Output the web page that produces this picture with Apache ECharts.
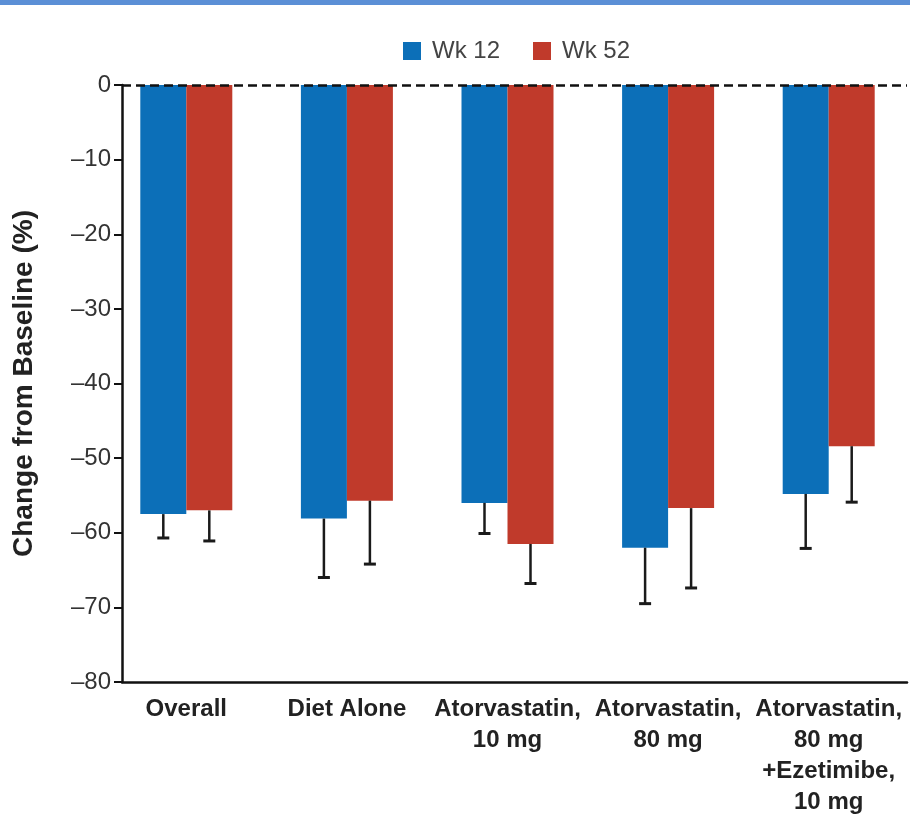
<!DOCTYPE html>
<html>
<head>
<meta charset="utf-8">
<script src="https://cdn.jsdelivr.net/npm/echarts@6/dist/echarts.min.js"></script>
<style>
  html, body { margin: 0; padding: 0; background: #fff; }
  #chart { width: 910px; height: 833px; }
</style>
</head>
<body>
<div id="chart"></div>
<script>
var categories = ['Overall', 'Diet Alone', 'Atorvastatin,\n10 mg', 'Atorvastatin,\n80 mg', 'Atorvastatin,\n80 mg\n+Ezetimibe,\n10 mg'];
var wk12 = [-57.5, -58.1, -56.0, -62.0, -54.8];
var wk52 = [-57.0, -55.7, -61.5, -56.7, -48.4];
// lower end of each error bar
var wk12Low = [-60.7, -66.0, -60.1, -69.5, -62.1];
var wk52Low = [-61.1, -64.2, -66.8, -67.4, -55.9];
var yTicks = [0, -10, -20, -30, -40, -50, -60, -70, -80];

var FONT = '"Liberation Sans", Lato, sans-serif';
var BLUE = '#0c6fb8';
var RED = '#c03a2b';
var BAR_W = 46;

var chartDom = document.getElementById('chart');
var myChart = echarts.init(chartDom);

function errData(vals, lows) {
  var out = [];
  for (var i = 0; i < vals.length; i++) {
    out.push([i, vals[i], lows[i]]);
  }
  return out;
}

function errRender(shift) {
  return function (params, api) {
    var i = api.value(0);
    var p1 = api.coord([i, api.value(1)]);
    var p2 = api.coord([i, api.value(2)]);
    var x = p1[0] + shift;
    return {
      type: 'group',
      children: [
        { type: 'line', shape: { x1: x, y1: p1[1], x2: x, y2: p2[1] }, style: { stroke: '#1a1a1a', lineWidth: 2.5 } },
        { type: 'line', shape: { x1: x - 6, y1: p2[1], x2: x + 6, y2: p2[1] }, style: { stroke: '#1a1a1a', lineWidth: 3 } }
      ]
    };
  };
}

var option = {
  animation: false,
  backgroundColor: '#fff',
  textStyle: { fontFamily: FONT },
  graphic: [
    { type: 'rect', left: 0, top: 0, shape: { width: 910, height: 5 }, style: { fill: '#5b8fd6' } }
  ],
  legend: {
    data: ['Wk 12', 'Wk 52'],
    left: 398,
    top: 34,
    icon: 'rect',
    itemWidth: 18,
    itemHeight: 18,
    itemGap: 33,
    textStyle: { fontFamily: FONT, fontSize: 24, color: '#444', padding: [0, 0, 0, 6] }
  },
  grid: [
    { left: 122, right: 3, top: 85, bottom: 151 },
    { left: 106, right: 1, top: 85, bottom: 151 }
  ],
  xAxis: [
    {
      type: 'category', gridIndex: 0, data: categories,
      axisLine: { onZero: false, lineStyle: { color: '#111', width: 2.5 } },
      axisTick: { show: false },
      axisLabel: { show: false }
    },
    {
      type: 'category', gridIndex: 1, data: categories,
      axisLine: { show: false },
      axisTick: { show: false },
      axisLabel: {
        margin: 12,
        interval: 0,
        fontFamily: FONT,
        fontSize: 24,
        fontWeight: 'bold',
        color: '#222',
        lineHeight: 31,
        align: 'center'
      }
    }
  ],
  yAxis: [
    {
      type: 'value', gridIndex: 0, min: -80, max: 0, interval: 10,
      name: 'Change from Baseline (%)',
      nameLocation: 'middle',
      nameGap: 84,
      nameTextStyle: { fontFamily: FONT, fontSize: 28, fontWeight: 'bold', color: '#222' },
      axisLine: { show: true, lineStyle: { color: '#111', width: 2.5 } },
      axisTick: { show: true, length: 8, lineStyle: { color: '#111', width: 2 } },
      axisLabel: {
        margin: 11,
        fontFamily: FONT,
        fontSize: 24,
        color: '#333',
        formatter: function (v) { return v < 0 ? '\u2013' + Math.abs(v) : String(v); }
      },
      splitLine: { show: false }
    },
    {
      type: 'value', gridIndex: 1, min: -80, max: 0, interval: 10,
      show: false
    }
  ],
  series: [
    {
      name: 'Wk 12', type: 'bar', xAxisIndex: 1, yAxisIndex: 1,
      data: wk12, barWidth: BAR_W, barGap: '0%',
      itemStyle: { color: BLUE }, z: 2
    },
    {
      name: 'Wk 52', type: 'bar', xAxisIndex: 1, yAxisIndex: 1,
      data: wk52, barWidth: BAR_W, barGap: '0%',
      itemStyle: { color: RED }, z: 2
    },
    {
      type: 'custom', xAxisIndex: 1, yAxisIndex: 1,
      renderItem: errRender(-BAR_W / 2),
      data: errData(wk12, wk12Low), z: 3, silent: true
    },
    {
      type: 'custom', xAxisIndex: 1, yAxisIndex: 1,
      renderItem: errRender(BAR_W / 2),
      data: errData(wk52, wk52Low), z: 3, silent: true
    },
    {
      type: 'line', xAxisIndex: 0, yAxisIndex: 0, data: [],
      silent: true, z: 5,
      markLine: {
        silent: true,
        symbol: ['none', 'none'],
        label: { show: false },
        lineStyle: { color: '#111', width: 2.5, type: [9, 5] },
        data: [{ yAxis: yTicks[0] }]
      }
    }
  ]
};

option && myChart.setOption(option);
</script>
</body>
</html>
